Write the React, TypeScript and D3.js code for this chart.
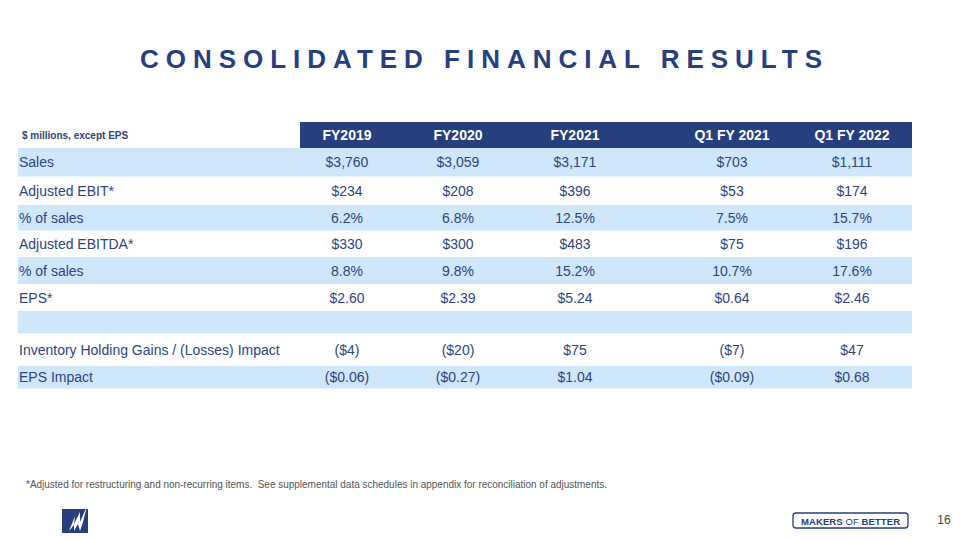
import React from "react";
import * as d3 from "d3";

const columns = ["FY2019", "FY2020", "FY2021", "Q1 FY 2021", "Q1 FY 2022"];
const rowLabels = [
  "Sales",
  "Adjusted EBIT*",
  "% of sales",
  "Adjusted EBITDA*",
  "% of sales",
  "EPS*",
  "",
  "Inventory Holding Gains / (Losses) Impact",
  "EPS Impact",
];
const fy2019 = ["$3,760", "$234", "6.2%", "$330", "8.8%", "$2.60", "", "($4)", "($0.06)"];
const fy2020 = ["$3,059", "$208", "6.8%", "$300", "9.8%", "$2.39", "", "($20)", "($0.27)"];
const fy2021 = ["$3,171", "$396", "12.5%", "$483", "15.2%", "$5.24", "", "$75", "$1.04"];
const q1fy2021 = ["$703", "$53", "7.5%", "$75", "10.7%", "$0.64", "", "($7)", "($0.09)"];
const q1fy2022 = ["$1,111", "$174", "15.7%", "$196", "17.6%", "$2.46", "", "$47", "$0.68"];
const shaded = [true, false, true, false, true, false, true, false, true];

const series = [fy2019, fy2020, fy2021, q1fy2021, q1fy2022];

const NAVY = "#26407f";
const TEXT = "#2d4580";
const BAND = "#cfe7fb";
const FONT = "'Liberation Sans', Arial, sans-serif";

export default function App() {
  const x = d3
    .scaleOrdinal<string, number>()
    .domain(columns)
    .range([347, 458, 575, 732, 852]);
  const bounds = [148, 176.5, 205, 230.5, 257, 284, 311, 333.5, 366, 388.5];
  const rows = d3.range(rowLabels.length);
  const yTop = d3.scaleOrdinal<number, number>().domain(rows).range(bounds.slice(0, -1));
  const yBot = d3.scaleOrdinal<number, number>().domain(rows).range(bounds.slice(1));

  return (
    <svg width={960} height={540} style={{ position: "absolute", left: 0, top: 0, background: "#fff" }} fontFamily={FONT}>
      <rect width={960} height={540} fill="#fff" />
      <text
        x={140}
        y={68}
        fontSize={26}
        fontWeight="bold"
        fill={NAVY}
        textLength={682}
        lengthAdjust="spacing"
      >
        CONSOLIDATED FINANCIAL RESULTS
      </text>

      {/* header */}
      <rect x={300} y={122} width={612} height={26} fill={NAVY} />
      <text x={22} y={139} fontSize={10} fontWeight="bold" fill={TEXT}>
        $ millions, except EPS
      </text>
      {columns.map((c) => (
        <text key={c} x={x(c)} y={140} textAnchor="middle" fontSize={14} fontWeight="bold" fill="#fff">
          {c}
        </text>
      ))}

      {rows.map((i) => {
        const t = yTop(i);
        const b = yBot(i);
        const cy = (t + b) / 2;
        return (
          <g key={i}>
            {shaded[i] && <rect x={18} y={t} width={894} height={b - t} fill={BAND} />}
            <text x={19} y={cy + 5} fontSize={14} fill={TEXT}>
              {rowLabels[i]}
            </text>
            {columns.map((c, j) => (
              <text key={c} x={x(c)} y={cy + 5} textAnchor="middle" fontSize={14} fill={TEXT}>
                {series[j][i]}
              </text>
            ))}
          </g>
        );
      })}

      <text x={26} y={488} fontSize={10} fill="#555" textLength={581} lengthAdjust="spacingAndGlyphs" style={{ whiteSpace: "pre" }}>
        *Adjusted for restructuring and non-recurring items.  See supplemental data schedules in appendix for reconciliation of adjustments.
      </text>

      {/* logo */}
      <rect x={62} y={509} width={26} height={24} fill={NAVY} />
      <polygon points="69,531 75,516 74,524 80,512 80,522 87,506 83,522 80,531 78,524 74,531 74,525" fill="#fff" />

      {/* makers of better */}
      <rect x={793} y={513} width={115} height={15} rx={3} fill="none" stroke={NAVY} strokeWidth={1.3} />
      <text x={801} y={524.5} fontSize={9.5} fontWeight="bold" fill={NAVY} textLength={99} lengthAdjust="spacing">
        MAKERS <tspan fontWeight="normal">OF</tspan> BETTER
      </text>
      <text x={944} y={524} textAnchor="middle" fontSize={12} fill="#444">
        16
      </text>
    </svg>
  );
}
